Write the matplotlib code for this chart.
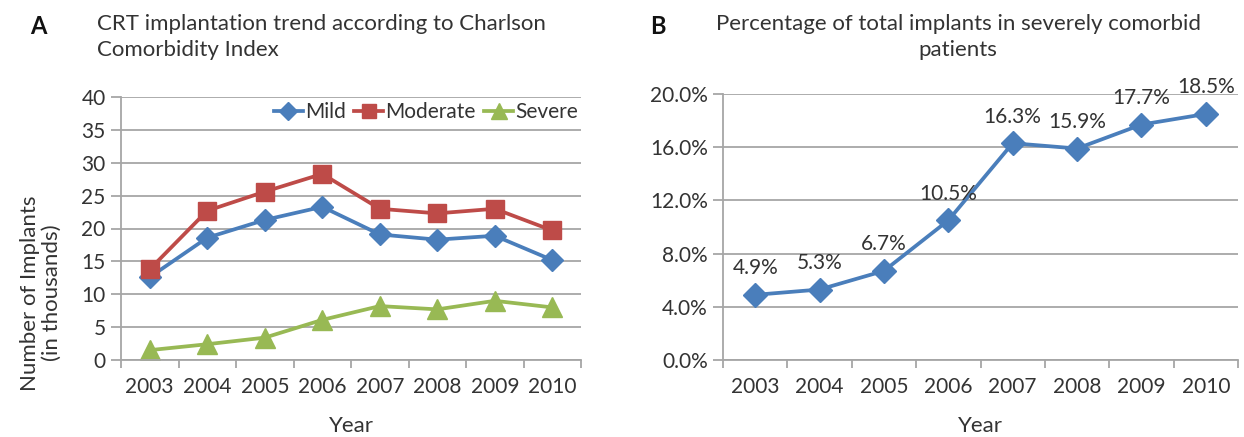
import matplotlib
matplotlib.use("Agg")
import matplotlib.pyplot as plt
import numpy as np

years = ["2003", "2004", "2005", "2006", "2007", "2008", "2009", "2010"]
mild = [12.6, 18.6, 21.3, 23.3, 19.1, 18.3, 18.9, 15.2]
moderate = [13.8, 22.7, 25.6, 28.3, 23.0, 22.3, 23.0, 19.7]
severe = [1.5, 2.4, 3.4, 6.1, 8.2, 7.7, 9.0, 8.0]
severe_pct = [4.9, 5.3, 6.7, 10.5, 16.3, 15.9, 17.7, 18.5]

plt.rcParams['font.family'] = ['Lato', 'DejaVu Sans']
TXT = '#333333'
GRID = '#a6a6a6'
BLUE = '#4a7ebb'
RED = '#be4b48'
GREEN = '#98b954'

fig = plt.figure(figsize=(12.44, 4.37), dpi=100)
axA = fig.add_axes([121/1244, 1-360/437, 460/1244, 263/437])
axB = fig.add_axes([723/1244, 1-360/437, 515/1244, 266/437])

x = np.arange(len(years))

def style(ax):
    for s in ['top', 'right']:
        ax.spines[s].set_visible(False)
    for s in ['left', 'bottom']:
        ax.spines[s].set_color(GRID)
        ax.spines[s].set_linewidth(1.3)
    ax.grid(axis='y', color=GRID, linewidth=1.3)
    ax.set_axisbelow(True)
    ax.set_xlim(-0.5, len(years) - 0.5)
    ax.set_xticks(x)
    ax.set_xticklabels(years)
    ax.set_xticks(np.arange(-0.5, len(years)), minor=True)
    ax.tick_params(axis='x', which='major', length=0, pad=12, labelsize=15, labelcolor=TXT)
    ax.tick_params(axis='x', which='minor', length=6, color=GRID, width=1.3)
    ax.tick_params(axis='y', length=7, color=GRID, width=1.3, labelsize=15, labelcolor=TXT, pad=4)
    ax.set_xlabel('Year', fontsize=16, color=TXT, labelpad=14)

style(axA)
lw = 2.7
axA.plot(x, mild, color=BLUE, lw=lw, marker='D', ms=11, label='Mild')
axA.plot(x, moderate, color=RED, lw=lw, marker='s', ms=13, label='Moderate')
axA.plot(x, severe, color=GREEN, lw=lw, marker='^', ms=14, label='Severe')
axA.set_ylim(0, 40)
axA.set_yticks(np.arange(0, 41, 5))
axA.set_ylabel('Number of Implants\n(in thousands)', fontsize=16, color=TXT, linespacing=1.15)
axA.yaxis.set_label_coords(-0.128, 0.255)
axA.legend(loc='upper right', bbox_to_anchor=(1.025, 1.035), ncol=3, frameon=False, fontsize=15,
           handlelength=1.4, handletextpad=0.1, columnspacing=0.4, markerscale=0.8,
           labelcolor=TXT, borderaxespad=0.3)

style(axB)
axB.plot(x, severe_pct, color=BLUE, lw=lw, marker='D', ms=12)
axB.set_ylim(0, 20)
axB.set_yticks(np.arange(0, 20.1, 4))
axB.set_yticklabels([f"{v:.1f}%" for v in np.arange(0, 20.1, 4)])
for xi, v in zip(x, severe_pct):
    axB.annotate(f"{v}%", (xi, v), xytext=(0, 12), textcoords='offset points',
                 ha='center', va='bottom', fontsize=15, color=TXT)

fig.text(30/1244, 1-27/437, 'A', fontsize=17, fontweight='bold', color='#111111', va='center', ha='left')
fig.text(97/1244, 1-37/437, 'CRT implantation trend according to Charlson\nComorbidity Index',
         fontsize=16, color=TXT, va='center', ha='left', linespacing=1.35)
fig.text(650/1244, 1-27/437, 'B', fontsize=17, fontweight='bold', color='#111111', va='center', ha='left')
fig.text(958/1244, 1-37/437, 'Percentage of total implants in severely comorbid\npatients',
         fontsize=16, color=TXT, va='center', ha='center', linespacing=1.35)

fig.savefig('out.png', dpi=100, facecolor='white')
